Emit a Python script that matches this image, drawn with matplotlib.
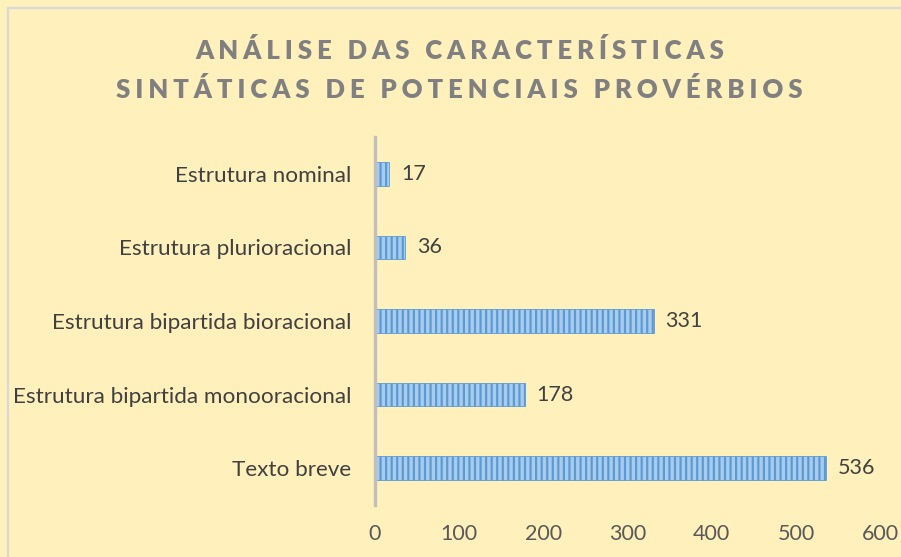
import matplotlib.pyplot as plt
from matplotlib.lines import Line2D

# dados do gráfico
categorias = ["Texto breve",
              "Estrutura bipartida monooracional",
              "Estrutura bipartida bioracional",
              "Estrutura plurioracional",
              "Estrutura nominal"]
valores = [536, 178, 331, 36, 17]
ticks_x = [0, 100, 200, 300, 400, 500, 600]
titulo = ["ANÁLISE DAS CARACTERÍSTICAS", "SINTÁTICAS DE POTENCIAIS PROVÉRBIOS"]

fundo = "#FFF0BC"
fonte = ["Lato", "DejaVu Sans"]
plt.rcParams["hatch.linewidth"] = 1.6


# espaçamento entre letras (imita o título do Excel)
def espacar(txt):
    fino = "\u2009\u200a"
    return (fino + " " + fino).join(fino.join(p) for p in txt.split(" "))


fig = plt.figure(figsize=(9.01, 5.57), dpi=100, facecolor=fundo)
ax = fig.add_axes([0.416, 0.0934, 0.561, 0.6606])
ax.set_facecolor(fundo)

pos = list(range(len(categorias)))
ax.barh(pos, valores, height=0.32, color="#AACCEC", edgecolor="#5B9BD5",
        hatch="|||", linewidth=0.6)

for p, v in zip(pos, valores):
    ax.text(v + 14, p, str(v), va="center", ha="left", fontsize=15.5,
            color="#404040", family=fonte)

ax.set_xlim(0, 600)
ax.set_ylim(-0.5, len(categorias) - 0.5)
ax.set_xticks(ticks_x)
ax.set_xticklabels([str(t) for t in ticks_x], family=fonte, fontsize=15.5,
                   color="#595959")
ax.set_yticks(pos)
ax.set_yticklabels(categorias, family=fonte, fontsize=16.2, color="#404040")
ax.tick_params(axis="both", length=0)
ax.tick_params(axis="x", pad=14)
ax.tick_params(axis="y", pad=17)

for s in ["top", "right", "bottom"]:
    ax.spines[s].set_visible(False)
ax.spines["left"].set_color("#BFBFBF")
ax.spines["left"].set_linewidth(2.4)

fig.text(0.51, 0.91, espacar(titulo[0]), ha="center", va="center",
         fontsize=18.5, fontweight="heavy", color="#808080", family=fonte)
fig.text(0.51, 0.84, espacar(titulo[1]), ha="center", va="center",
         fontsize=18.5, fontweight="heavy", color="#808080", family=fonte)

# moldura (só esquerda e topo visíveis)
W, H = 901, 557
fig.add_artist(Line2D([8 / W, 8 / W], [0, 1 - 8 / H], transform=fig.transFigure,
                      color="#D9D9D9", linewidth=1.6))
fig.add_artist(Line2D([8 / W, 1], [1 - 8 / H, 1 - 8 / H], transform=fig.transFigure,
                      color="#D9D9D9", linewidth=1.6))

fig.savefig("out.png", dpi=100, facecolor=fundo)
